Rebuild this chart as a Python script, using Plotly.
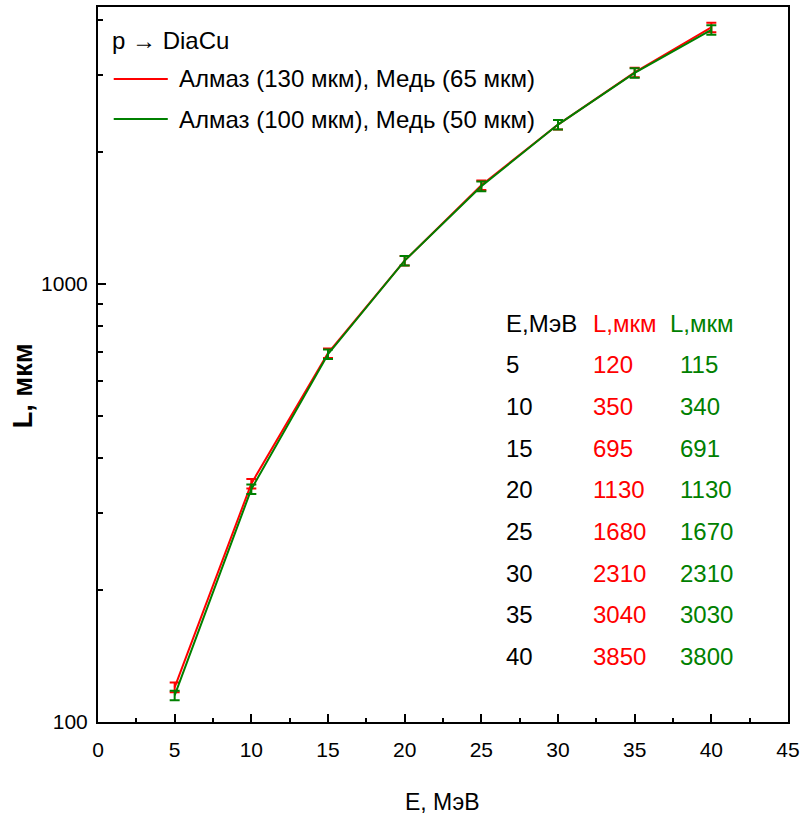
import plotly.graph_objects as go

energy = [5, 10, 15, 20, 25, 30, 35, 40]
L_red = [120, 350, 695, 1130, 1680, 2310, 3040, 3850]
L_green = [115, 340, 691, 1130, 1670, 2310, 3030, 3800]
err_pct = 2.5

name_red = "Алмаз (130 мкм), Медь (65 мкм)"
name_green = "Алмаз (100 мкм), Медь (50 мкм)"
legend_title = "p → DiaCu"
x_ticks = list(range(0, 50, 5))
y_ticks = [100, 1000]

W, H = 803, 822
ML, MR, MT, MB = 98, 3, 7, 100

font_std = "Liberation Sans, Arial"
RED = "#ff0000"
GREEN = "#008000"

fig = go.Figure()
fig.add_trace(go.Scatter(
    x=energy, y=L_red, mode="lines", name=name_red,
    line=dict(color=RED, width=2),
    error_y=dict(type="percent", value=err_pct, color=RED, thickness=2, width=5),
))
fig.add_trace(go.Scatter(
    x=energy, y=L_green, mode="lines", name=name_green,
    line=dict(color=GREEN, width=2),
    error_y=dict(type="percent", value=err_pct, color=GREEN, thickness=2, width=5),
))

pw = W - ML - MR
ph = H - MT - MB

def px(xp):
    return (xp - ML) / pw

def py(yp):
    return 1 - (yp - MT) / ph

annotations = []
shapes = []

# manual legend
annotations.append(dict(x=px(110), y=py(40), xref="paper", yref="paper", text=legend_title,
                        showarrow=False, xanchor="left", yanchor="middle",
                        font=dict(family=font_std, size=24, color="black")))
for yy, nm, c in [(79, name_red, RED), (119, name_green, GREEN)]:
    shapes.append(dict(type="line", xref="paper", yref="paper", x0=px(114), x1=px(169),
                       y0=py(yy), y1=py(yy), line=dict(color=c, width=2)))
    annotations.append(dict(x=px(178), y=py(yy), xref="paper", yref="paper", text=nm,
                            showarrow=False, xanchor="left", yanchor="middle",
                            font=dict(family=font_std, size=24, color="black")))

# table
row_y0 = 323
row_dy = 41.7
head_colors = ["black", RED, GREEN]
heads = ["E,МэВ", "L,мкм", "L,мкм"]
for cx, txt, c in zip([511, 600, 678], heads, head_colors):
    annotations.append(dict(x=px(cx), y=py(row_y0), xref="paper", yref="paper",
                            text=txt, showarrow=False, xanchor="left", yanchor="middle",
                            font=dict(family=font_std, size=24, color=c)))
for i, (e, r, g) in enumerate(zip(energy, L_red, L_green)):
    yy = py(row_y0 + row_dy * (i + 1))
    for cx, val, c in zip([511, 600, 688], [e, r, g], head_colors):
        annotations.append(dict(x=px(cx), y=yy, xref="paper", yref="paper",
                                text=str(val), showarrow=False, xanchor="left", yanchor="middle",
                                font=dict(family=font_std, size=24, color=c)))

# y axis title
annotations.append(dict(x=px(22), y=py(386), xref="paper", yref="paper", text="<b>L, мкм</b>",
                        textangle=-90, showarrow=False, xanchor="center", yanchor="middle",
                        font=dict(family=font_std, size=27, color="black")))
# x axis title
annotations.append(dict(x=px(448), y=py(802), xref="paper", yref="paper", text="E, МэВ",
                        showarrow=False, xanchor="center", yanchor="middle",
                        font=dict(family=font_std, size=23, color="black")))

fig.update_layout(
    width=W, height=H,
    margin=dict(l=ML, r=MR, t=MT, b=MB),
    paper_bgcolor="white", plot_bgcolor="white",
    showlegend=False,
    annotations=annotations,
    shapes=shapes,
    xaxis=dict(
        range=[0, 45], tickvals=x_ticks, ticktext=[str(v) for v in x_ticks],
        showline=True, linecolor="black", linewidth=2, mirror=True,
        ticks="inside", ticklen=8, tickwidth=2, tickcolor="black",
        minor=dict(dtick=2.5, ticks="inside", ticklen=4, tickwidth=1.5, tickcolor="black"),
        showgrid=False, zeroline=False, ticklabeloverflow="allow",
        ticklabelstandoff=8,
        tickfont=dict(family=font_std, size=21, color="black"),
    ),
    yaxis=dict(
        type="log", range=[2, 3.632], tickvals=y_ticks, ticktext=[str(v) for v in y_ticks],
        showline=True, linecolor="black", linewidth=2, mirror=True,
        ticks="inside", ticklen=8, tickwidth=2, tickcolor="black",
        minor=dict(tickvals=[200, 300, 400, 500, 600, 700, 800, 900, 2000, 3000, 4000],
                   ticks="inside", ticklen=5, tickwidth=1.5, tickcolor="black"),
        showgrid=False, zeroline=False, ticklabeloverflow="allow",
        ticklabelstandoff=4,
        tickfont=dict(family=font_std, size=21, color="black"),
    ),
)

fig.write_html("out.html")
